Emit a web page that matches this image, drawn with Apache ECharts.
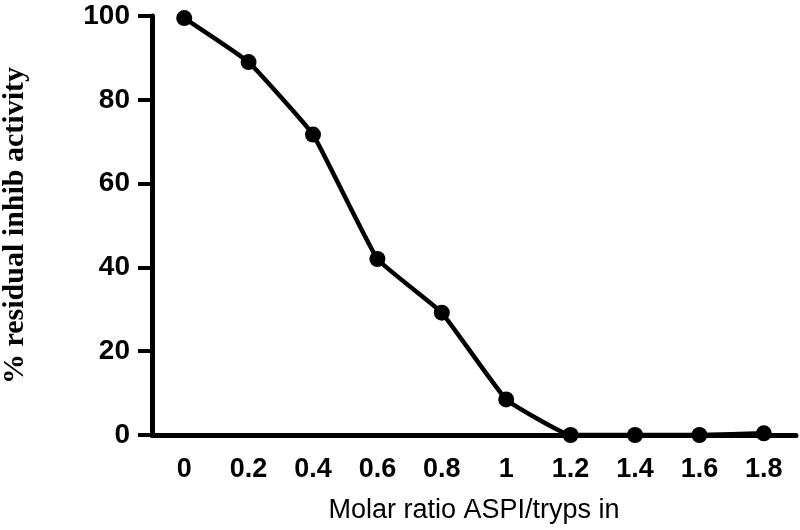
<!DOCTYPE html>
<html>
<head>
<meta charset="utf-8">
<script src="https://cdn.jsdelivr.net/npm/echarts@6/dist/echarts.min.js"></script>
<style>
  html, body { margin: 0; padding: 0; background: #fff; }
  #chart { width: 800px; height: 530px; }
</style>
</head>
<body>
<div id="chart"></div>
<script>
  // molar ratio ASPI/trypsin (categories) and residual activity (%)
  var ratios = ['0', '0.2', '0.4', '0.6', '0.8', '1', '1.2', '1.4', '1.6', '1.8'];
  var activity = [99.5, 89, 71.7, 42, 29.2, 8.5, 0, 0, 0, 0.4];
  var yTicks = [0, 20, 40, 60, 80, 100];

  var chart = echarts.init(document.getElementById('chart'));
  chart.setOption({
    animation: false,
    backgroundColor: '#fff',
    grid: {
      left: 152,
      right: 4,
      top: 16,
      bottom: 95,
      containLabel: false,
      outerBoundsMode: 'none'
    },
    xAxis: {
      type: 'category',
      data: ratios,
      boundaryGap: true,
      name: 'Molar ratio ASPI/tryps in',
      nameLocation: 'middle',
      nameGap: 62,
      nameTextStyle: {
        fontFamily: 'Liberation Sans, Arial',
        fontSize: 27,
        color: '#000'
      },
      axisLine: { lineStyle: { color: '#000', width: 5 } },
      axisTick: {
        alignWithLabel: true,
        length: 11,
        lineStyle: { color: '#000', width: 4 }
      },
      axisLabel: {
        margin: 21,
        color: '#000',
        fontWeight: 'bold',
        fontSize: 27,
        fontFamily: 'Liberation Sans, Arial'
      },
      splitLine: { show: false }
    },
    yAxis: {
      type: 'value',
      min: 0,
      max: 100,
      interval: 20,
      name: '% residual inhib activity',
      nameLocation: 'middle',
      nameGap: 122,
      nameTextStyle: {
        fontFamily: 'Liberation Serif, Times New Roman, serif',
        fontWeight: 'bold',
        fontSize: 30,
        color: '#000'
      },
      axisLine: { show: true, lineStyle: { color: '#000', width: 5 } },
      axisTick: {
        show: true,
        length: 14,
        lineStyle: { color: '#000', width: 4 }
      },
      axisLabel: {
        margin: 22,
        color: '#000',
        fontWeight: 'bold',
        fontSize: 28,
        fontFamily: 'Liberation Sans, Arial',
        formatter: function (v) { return yTicks.indexOf(v) >= 0 ? String(v) : ''; }
      },
      splitLine: { show: false }
    },
    series: [
      {
        type: 'line',
        data: activity,
        smooth: 0.1,
        symbol: 'circle',
        symbolSize: 16,
        itemStyle: { color: '#000' },
        lineStyle: { color: '#000', width: 4.5 },
        z: 5
      }
    ]
  });
</script>
</body>
</html>
